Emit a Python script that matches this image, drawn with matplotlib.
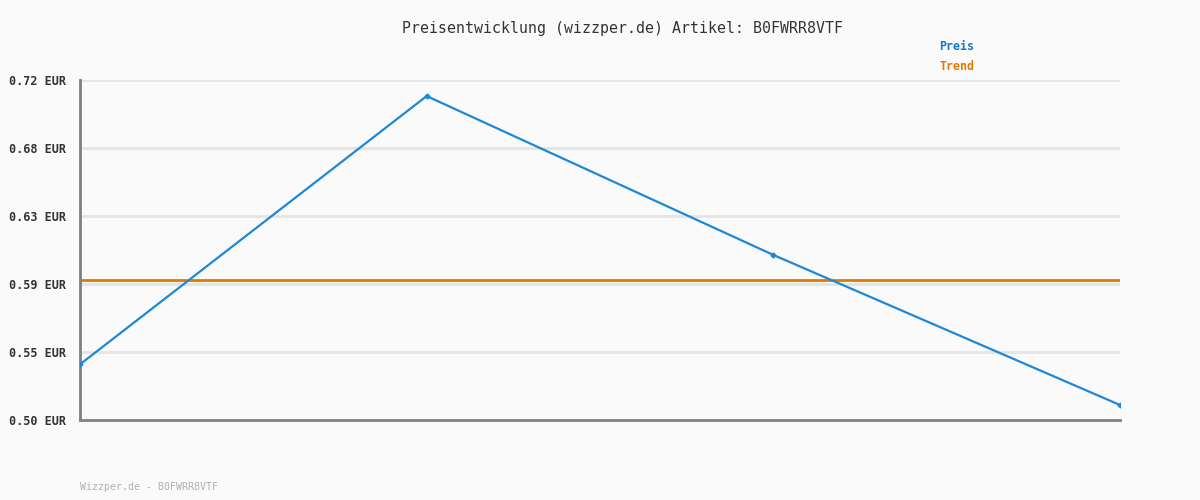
import numpy as np
import matplotlib.pyplot as plt

# Werte
punkte = [0, 1, 2, 3]
preis = [0.536, 0.7096, 0.6068, 0.5097]
trend = 0.5906
tick_labels = ['0.50 EUR', '0.55 EUR', '0.59 EUR', '0.63 EUR', '0.68 EUR', '0.72 EUR']
y_min, y_max = 0.50, 0.72

bg = '#fafafa'
blau = '#1e88d4'
orange = '#e07b00'

fig = plt.figure(figsize=(12, 5), dpi=100, facecolor=bg)
ax = fig.add_axes([80/1200, 80/500, 1040/1200, 340/500], facecolor=bg)

ticks = np.linspace(y_min, y_max, len(tick_labels))
for t in ticks[1:]:
    ax.axhline(t, color='#e4e4e4', lw=2, zorder=1)

ax.plot(punkte, preis, color=blau, lw=1.6, marker='D', ms=2.5, zorder=3)
ax.axhline(trend, color=orange, lw=2, zorder=2)

ax.set_xlim(punkte[0], punkte[-1])
ax.set_ylim(y_min, y_max)
ax.set_yticks(ticks)
ax.set_yticklabels(tick_labels, family='DejaVu Sans Mono', fontsize=8.5,
                   fontweight='bold', color='#333333')
ax.set_xticks([])
ax.tick_params(axis='y', length=0, pad=10)

for s in ['top', 'right']:
    ax.spines[s].set_visible(False)
for s in ['left', 'bottom']:
    ax.spines[s].set_color('#808080')
    ax.spines[s].set_linewidth(2)

fig.text(623/1200, 1 - 28/500, 'Preisentwicklung (wizzper.de) Artikel: B0FWRR8VTF',
         ha='center', va='center', family='DejaVu Sans Mono', fontsize=10.7, color='#333333')
fig.text(939/1200, 1 - 47/500, 'Preis', ha='left', va='center',
         family='DejaVu Sans Mono', fontsize=8.4, fontweight='bold', color='#1a78c2')
fig.text(939/1200, 1 - 67/500, 'Trend', ha='left', va='center',
         family='DejaVu Sans Mono', fontsize=8.4, fontweight='bold', color=orange)
fig.text(80/1200, 1 - 487/500, 'Wizzper.de - B0FWRR8VTF', ha='left', va='center',
         family='DejaVu Sans Mono', fontsize=7.1, color='#b0b0b0')

fig.savefig('out.png', dpi=100, facecolor=bg)
